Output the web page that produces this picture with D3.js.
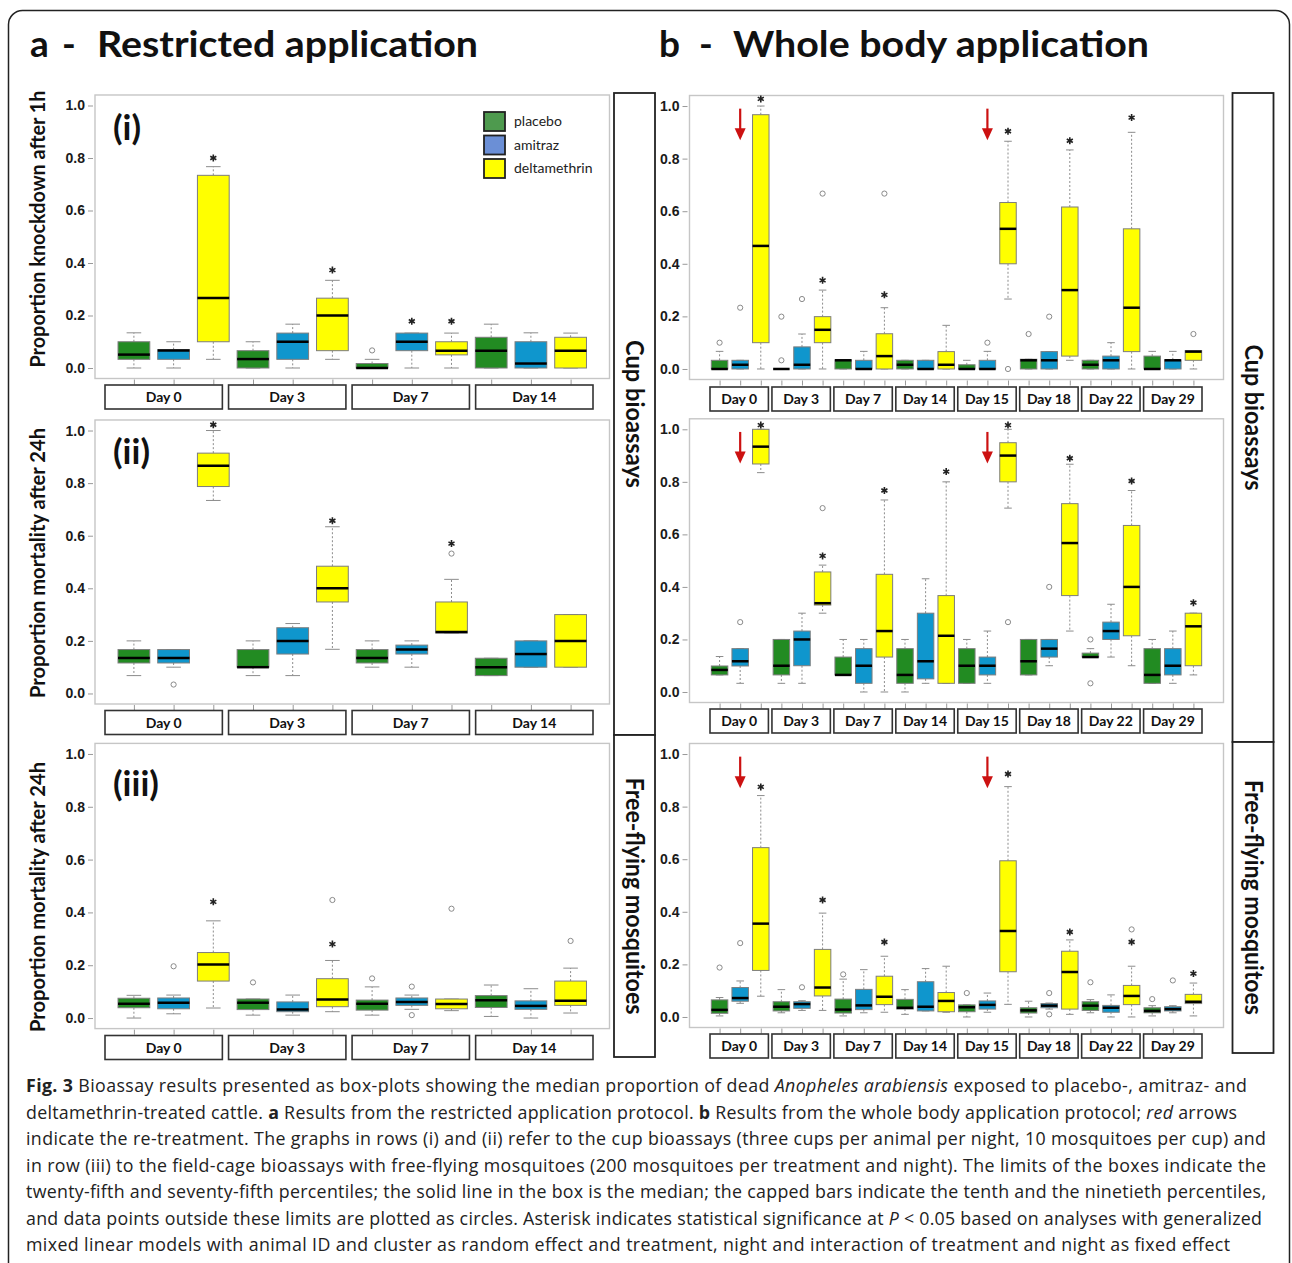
<!DOCTYPE html>
<html>
<head>
<meta charset="utf-8">
<script src="https://cdn.jsdelivr.net/npm/d3@7"></script>
<style>
    body { margin: 0; background: #fff; }
    svg { font-family: Lato, "Open Sans", sans-serif; }
</style>
</head>
<body>
<div id="fig"></div>
<script>
const treatments = ["placebo", "amitraz", "deltamethrin"];
const daysA = ["Day 0", "Day 3", "Day 7", "Day 14"];
const daysB = ["Day 0", "Day 3", "Day 7", "Day 14", "Day 15", "Day 18", "Day 22", "Day 29"];
const yTicks = [0, 0.2, 0.4, 0.6, 0.8, 1.0];
const retreatDays = ["Day 0", "Day 15"];

// each row: [p10, p25, median, p75, p90], days x (placebo, amitraz, deltamethrin)
// outliers and asterisks: [box position (1-based), value]
const aKnock = [
    [0, 0.033, 0.051, 0.10, 0.134], [0, 0.033, 0.067, 0.07, 0.10], [0.033, 0.10, 0.267, 0.734, 0.767],
    [0, 0, 0.034, 0.066, 0.10], [0, 0.033, 0.10, 0.133, 0.167], [0.033, 0.066, 0.20, 0.266, 0.334],
    [0, 0, 0, 0.017, 0.033], [0, 0.066, 0.10, 0.133, 0.133], [0, 0.05, 0.066, 0.10, 0.133],
    [0, 0, 0.066, 0.117, 0.167], [0, 0, 0.017, 0.10, 0.134], [0, 0, 0.066, 0.117, 0.133]
];
const aKnockOut = [[7, 0.067]];
const aKnockSig = [[3, 0.80], [6, 0.373], [8, 0.178], [9, 0.178]];

const aCup = [
    [0.068, 0.116, 0.135, 0.167, 0.20], [0.10, 0.116, 0.135, 0.167, 0.167], [0.734, 0.787, 0.866, 0.914, 1.0],
    [0.068, 0.10, 0.10, 0.167, 0.20], [0.068, 0.15, 0.20, 0.25, 0.266], [0.168, 0.348, 0.40, 0.484, 0.634],
    [0.10, 0.116, 0.135, 0.167, 0.20], [0.10, 0.15, 0.167, 0.184, 0.20], [0.23, 0.23, 0.234, 0.348, 0.434],
    [0.068, 0.068, 0.10, 0.134, 0.134], [0.10, 0.10, 0.15, 0.20, 0.20], [0.10, 0.10, 0.20, 0.30, 0.30]
];
const aCupOut = [[2, 0.034], [9, 0.532]];
const aCupSig = [[3, 1.022], [6, 0.657], [9, 0.57]];

const aFree = [
    [0, 0.039, 0.054, 0.075, 0.086], [0.016, 0.035, 0.058, 0.076, 0.087], [0.038, 0.14, 0.203, 0.248, 0.368],
    [0.011, 0.032, 0.058, 0.072, 0.072], [0.011, 0.024, 0.032, 0.061, 0.087], [0.024, 0.043, 0.07, 0.149, 0.218],
    [0.011, 0.03, 0.054, 0.068, 0.118], [0.033, 0.048, 0.061, 0.076, 0.087], [0.028, 0.035, 0.053, 0.072, 0.072],
    [0.006, 0.04, 0.067, 0.085, 0.125], [0, 0.033, 0.046, 0.065, 0.111], [0.019, 0.048, 0.065, 0.14, 0.189]
];
const aFreeOut = [[2, 0.196], [4, 0.135], [6, 0.447], [7, 0.15], [8, 0.119], [8, 0.011], [9, 0.414], [12, 0.292]];
const aFreeSig = [[3, 0.44], [6, 0.28]];

const bKnock = [
    [0, 0, 0, 0.033, 0.067], [0, 0, 0.016, 0.033, 0.033], [0, 0.10, 0.468, 0.967, 1.0],
    [0, 0, 0, 0, 0], [0, 0, 0.016, 0.084, 0.133], [0, 0.10, 0.149, 0.199, 0.30],
    [0, 0, 0.033, 0.035, 0.035], [0, 0, 0, 0.033, 0.067], [0, 0, 0.049, 0.134, 0.233],
    [0, 0, 0.016, 0.033, 0.033], [0, 0, 0, 0.033, 0.033], [0, 0, 0.016, 0.066, 0.166],
    [0, 0, 0, 0.016, 0.033], [0, 0, 0, 0.033, 0.067], [0.266, 0.40, 0.533, 0.633, 0.866],
    [0, 0, 0.033, 0.037, 0.037], [0, 0, 0.033, 0.066, 0.066], [0.033, 0.049, 0.30, 0.616, 0.833],
    [0, 0, 0.016, 0.033, 0.033], [0, 0, 0.033, 0.049, 0.10], [0, 0.066, 0.233, 0.533, 0.90],
    [0, 0, 0, 0.049, 0.067], [0, 0, 0.033, 0.035, 0.067], [0, 0.033, 0.066, 0.07, 0.07]
];
const bKnockOut = [[1, 0.10], [2, 0.233], [4, 0.199], [4, 0.033], [5, 0.266], [6, 0.667], [9, 0.667],
    [14, 0.10], [15, 0], [16, 0.133], [17, 0.199], [24, 0.133]];
const bKnockSig = [[3, 1.027], [6, 0.337], [9, 0.282], [15, 0.904], [18, 0.868], [21, 0.956]];

const bCup = [
    [0.065, 0.065, 0.084, 0.099, 0.135], [0.033, 0.099, 0.117, 0.165, 0.165], [0.835, 0.868, 0.934, 1.0, 1.0],
    [0.033, 0.065, 0.10, 0.20, 0.20], [0.033, 0.10, 0.20, 0.232, 0.30], [0.30, 0.331, 0.338, 0.457, 0.483],
    [0.065, 0.065, 0.065, 0.133, 0.20], [0, 0.033, 0.10, 0.165, 0.20], [0, 0.133, 0.232, 0.448, 0.731],
    [0, 0.033, 0.065, 0.165, 0.20], [0.033, 0.05, 0.117, 0.30, 0.431], [0.033, 0.033, 0.214, 0.367, 0.80],
    [0.033, 0.033, 0.10, 0.165, 0.20], [0.033, 0.065, 0.10, 0.133, 0.232], [0.70, 0.80, 0.90, 0.949, 1.0],
    [0.065, 0.065, 0.117, 0.20, 0.20], [0.10, 0.133, 0.165, 0.20, 0.20], [0.232, 0.367, 0.567, 0.717, 0.867],
    [0.133, 0.133, 0.133, 0.148, 0.165], [0.133, 0.20, 0.232, 0.266, 0.334], [0.10, 0.214, 0.40, 0.634, 0.767],
    [0.033, 0.033, 0.065, 0.165, 0.20], [0.033, 0.065, 0.10, 0.165, 0.232], [0.065, 0.10, 0.25, 0.30, 0.30]
];
const bCupOut = [[2, 0.266], [6, 0.70], [15, 0.266], [17, 0.40], [19, 0.20], [19, 0.033]];
const bCupSig = [[3, 1.016], [6, 0.518], [9, 0.767], [12, 0.839], [15, 1.016], [18, 0.89], [21, 0.803], [24, 0.34]];

const bFree = [
    [0.004, 0.014, 0.027, 0.065, 0.074], [0.052, 0.06, 0.072, 0.112, 0.137], [0.079, 0.177, 0.355, 0.644, 0.842],
    [0.016, 0.023, 0.039, 0.058, 0.104], [0.025, 0.033, 0.049, 0.058, 0.062], [0.025, 0.08, 0.112, 0.257, 0.395],
    [0.004, 0.015, 0.028, 0.068, 0.144], [0.016, 0.028, 0.044, 0.105, 0.18], [0.018, 0.047, 0.077, 0.155, 0.231],
    [0.01, 0.03, 0.035, 0.067, 0.104], [0.023, 0.023, 0.039, 0.134, 0.184], [0.018, 0.02, 0.061, 0.093, 0.193],
    [0, 0.02, 0.037, 0.046, 0.046], [0.018, 0.03, 0.046, 0.061, 0.091], [0.048, 0.172, 0.327, 0.594, 0.876],
    [0, 0.015, 0.025, 0.035, 0.06], [0.03, 0.035, 0.043, 0.051, 0.053], [0.01, 0.03, 0.171, 0.25, 0.293],
    [0.016, 0.025, 0.043, 0.058, 0.066], [0, 0.018, 0.035, 0.044, 0.084], [0, 0.047, 0.08, 0.12, 0.193],
    [0.004, 0.016, 0.023, 0.035, 0.043], [0.016, 0.023, 0.03, 0.039, 0.043], [0.004, 0.051, 0.058, 0.086, 0.129]
];
const bFreeOut = [[1, 0.188], [2, 0.281], [5, 0.113], [7, 0.162], [13, 0.091], [17, 0.091], [17, 0.01],
    [19, 0.132], [21, 0.333], [22, 0.068], [23, 0.139]];
const bFreeSig = [[3, 0.875], [6, 0.445], [9, 0.285], [15, 0.924], [18, 0.323], [21, 0.285], [24, 0.165]];

const boxFill = {placebo: "#228b22", amitraz: "#0f96cd", deltamethrin: "#ffff00"};
const legendFill = {placebo: "#4e9a4e", amitraz: "#6b8fd6", deltamethrin: "#ffff00"};

const svg = d3.select("#fig").append("svg")
    .attr("width", 1292)
    .attr("height", 1263);

svg.append("rect")
    .attr("x", 8.5).attr("y", 10.5)
    .attr("width", 1281).attr("height", 1300)
    .attr("rx", 14)
    .attr("fill", "none")
    .attr("stroke", "#222")
    .attr("stroke-width", 1.5);

// headings
function heading(x, y, txt, len) {
    const t = svg.append("text")
        .attr("x", x).attr("y", y)
        .attr("font-size", 37)
        .attr("font-weight", "bold")
        .attr("fill", "#111")
        .text(txt);
    if (len) t.attr("textLength", len).attr("lengthAdjust", "spacingAndGlyphs");
}
heading(30, 57, "a");
heading(62, 57, "-");
heading(97, 57, "Restricted application", 381);
heading(659, 57, "b");
heading(699, 57, "-");
heading(733, 57, "Whole body application", 416);

function drawPanel(p) {
    const g = svg.append("g");
    const n = p.days.length * treatments.length;
    const pad = 0.5 + 0.04 * n;

    const x = d3.scaleLinear().domain([1 - pad, n + pad]).range([p.x0, p.x1]);
    const y = d3.scaleLinear().domain([-0.04, 1.04]).range([p.yBot, p.yTop]);
    const bw = 0.8 * (x(2) - x(1));
    const cap = bw * 0.23;

    const rows = p.stats.map((s, i) => ({
        pos: i + 1, treat: treatments[i % 3],
        lo: s[0], q1: s[1], med: s[2], q3: s[3], hi: s[4]
    }));

    g.append("rect")
        .attr("x", p.x0).attr("y", p.yTop)
        .attr("width", p.x1 - p.x0).attr("height", p.yBot - p.yTop)
        .attr("fill", "none")
        .attr("stroke", "#c6c6c6")
        .attr("stroke-width", 1.4);

    const ya = g.append("g")
        .attr("transform", "translate(" + (p.x0 - 2) + ",0)")
        .attr("font-family", "Lato, sans-serif")
        .call(d3.axisLeft(y).tickValues(yTicks).tickFormat(d3.format(".1f")).tickSize(5).tickPadding(3));
    ya.select(".domain").remove();
    ya.selectAll("line").attr("stroke", "#999");
    ya.selectAll("text")
        .attr("font-size", 14)
        .attr("font-weight", "bold")
        .attr("fill", "#1a1a1a");

    const xa = g.append("g")
        .attr("transform", "translate(0," + (p.yBot + 1) + ")")
        .call(d3.axisBottom(x).tickValues(d3.range(1, n + 1)).tickSize(5).tickFormat(""));
    xa.select(".domain").remove();
    xa.selectAll("line").attr("stroke", "#999");

    // whiskers
    const wh = g.append("g")
        .attr("stroke", "#8c8c8c")
        .attr("stroke-width", 1);
    wh.selectAll(".wup").data(rows).join("line")
        .attr("class", "wup")
        .attr("x1", d => x(d.pos)).attr("x2", d => x(d.pos))
        .attr("y1", d => y(d.q3)).attr("y2", d => y(d.hi))
        .attr("stroke-dasharray", "2,2");
    wh.selectAll(".wdn").data(rows).join("line")
        .attr("class", "wdn")
        .attr("x1", d => x(d.pos)).attr("x2", d => x(d.pos))
        .attr("y1", d => y(d.q1)).attr("y2", d => y(d.lo))
        .attr("stroke-dasharray", "2,2");
    wh.selectAll(".chi").data(rows).join("line")
        .attr("class", "chi")
        .attr("x1", d => x(d.pos) - cap).attr("x2", d => x(d.pos) + cap)
        .attr("y1", d => y(d.hi)).attr("y2", d => y(d.hi));
    wh.selectAll(".clo").data(rows).join("line")
        .attr("class", "clo")
        .attr("x1", d => x(d.pos) - cap).attr("x2", d => x(d.pos) + cap)
        .attr("y1", d => y(d.lo)).attr("y2", d => y(d.lo));

    g.selectAll(".box").data(rows).join("rect")
        .attr("class", "box")
        .attr("x", d => x(d.pos) - bw / 2)
        .attr("y", d => y(d.q3))
        .attr("width", bw)
        .attr("height", d => Math.max(0, y(d.q1) - y(d.q3)))
        .attr("fill", d => boxFill[d.treat])
        .attr("stroke", "#7d7d7d")
        .attr("stroke-width", 1);

    g.selectAll(".med").data(rows).join("line")
        .attr("class", "med")
        .attr("x1", d => x(d.pos) - bw / 2).attr("x2", d => x(d.pos) + bw / 2)
        .attr("y1", d => y(d.med)).attr("y2", d => y(d.med))
        .attr("stroke", "#000")
        .attr("stroke-width", 2.5);

    g.selectAll(".out").data(p.outs).join("circle")
        .attr("class", "out")
        .attr("cx", d => x(d[0]))
        .attr("cy", d => y(d[1]))
        .attr("r", 2.6)
        .attr("fill", "none")
        .attr("stroke", "#8a8a8a")
        .attr("stroke-width", 1);

    const star = d3.symbol(d3.symbolAsterisk, 34);
    g.selectAll(".sig").data(p.sigs).join("path")
        .attr("class", "sig")
        .attr("transform", d => "translate(" + x(d[0]) + "," + y(d[1]) + ")")
        .attr("d", star)
        .attr("stroke", "#222")
        .attr("stroke-width", 1.6);

    // day strips
    const band = d3.scaleBand().domain(p.days).range(p.strip).paddingInner(p.days.length > 4 ? 0.057 : 0.05);
    const strips = g.selectAll(".strip").data(p.days).join("g").attr("class", "strip");
    strips.append("rect")
        .attr("x", d => band(d)).attr("y", p.stripY)
        .attr("width", band.bandwidth()).attr("height", 24)
        .attr("fill", "#fff")
        .attr("stroke", "#333")
        .attr("stroke-width", 1.6);
    strips.append("text")
        .attr("x", d => band(d) + band.bandwidth() / 2)
        .attr("y", p.stripY + 17)
        .attr("text-anchor", "middle")
        .attr("font-size", 14)
        .attr("font-weight", "bold")
        .attr("fill", "#111")
        .text(d => d);

    if (p.arrows) {
        const ar = g.selectAll(".arrow").data(retreatDays).join("g").attr("class", "arrow")
            .attr("fill", "#cc1111").attr("stroke", "#cc1111");
        const ax = d => x(p.days.indexOf(d) * 3 + 2);
        ar.append("line")
            .attr("x1", ax).attr("x2", ax)
            .attr("y1", y(0.99)).attr("y2", y(0.87) - 10)
            .attr("stroke-width", 2.2);
        ar.append("path")
            .attr("stroke", "none")
            .attr("d", d => "M" + (ax(d) - 5.5) + "," + (y(0.87) - 12) + "h11L" + ax(d) + "," + y(0.87) + "Z");
    }

    if (p.legend) {
        const lg = g.selectAll(".leg").data(treatments).join("g").attr("class", "leg")
            .attr("transform", (d, i) => "translate(484," + (112 + i * 23.5) + ")");
        lg.append("rect")
            .attr("width", 21).attr("height", 19)
            .attr("fill", d => legendFill[d])
            .attr("stroke", "#222")
            .attr("stroke-width", 1.8);
        lg.append("text")
            .attr("x", 30).attr("y", 14)
            .attr("font-size", 14)
            .attr("fill", "#222")
            .text(d => d);
    }

    if (p.tag) {
        g.append("text")
            .attr("x", 113).attr("y", p.tagY)
            .attr("font-size", 35)
            .attr("font-weight", "bold")
            .attr("fill", "#111")
            .text(p.tag);
    }

    if (p.yLabel) {
        g.append("text")
            .attr("transform", "translate(45," + p.yLabelY + ") rotate(-90)")
            .attr("text-anchor", "middle")
            .attr("font-size", 20)
            .attr("font-weight", "bold")
            .attr("fill", "#111")
            .attr("textLength", p.yLabelLen)
            .attr("lengthAdjust", "spacingAndGlyphs")
            .text(p.yLabel);
    }
}

drawPanel({days: daysA, stats: aKnock, outs: aKnockOut, sigs: aKnockSig,
    x0: 95, x1: 609.5, yTop: 95, yBot: 378.5, strip: [105, 593], stripY: 385,
    legend: true, tag: "(i)", tagY: 140,
    yLabel: "Proportion knockdown after 1h", yLabelY: 229, yLabelLen: 277});
drawPanel({days: daysA, stats: aCup, outs: aCupOut, sigs: aCupSig,
    x0: 95, x1: 609.5, yTop: 420, yBot: 704, strip: [105, 593], stripY: 710.5,
    tag: "(ii)", tagY: 464,
    yLabel: "Proportion mortality after 24h", yLabelY: 563, yLabelLen: 270});
drawPanel({days: daysA, stats: aFree, outs: aFreeOut, sigs: aFreeSig,
    x0: 95, x1: 609.5, yTop: 743.4, yBot: 1028.6, strip: [105, 593], stripY: 1035.5,
    tag: "(iii)", tagY: 796,
    yLabel: "Proportion mortality after 24h", yLabelY: 897, yLabelLen: 270});

drawPanel({days: daysB, stats: bKnock, outs: bKnockOut, sigs: bKnockSig,
    x0: 689.5, x1: 1223.5, yTop: 95.5, yBot: 379.5, strip: [710, 1202], stripY: 387, arrows: true});
drawPanel({days: daysB, stats: bCup, outs: bCupOut, sigs: bCupSig,
    x0: 689.5, x1: 1223.5, yTop: 418.8, yBot: 702.5, strip: [710, 1202], stripY: 709, arrows: true});
drawPanel({days: daysB, stats: bFree, outs: bFreeOut, sigs: bFreeSig,
    x0: 689.5, x1: 1223.5, yTop: 743.5, yBot: 1027.5, strip: [710, 1202], stripY: 1034, arrows: true});

// side strips
function sideBox(x, y0, y1, label, len) {
    svg.append("rect")
        .attr("x", x).attr("y", y0)
        .attr("width", 41).attr("height", y1 - y0)
        .attr("fill", "#fff")
        .attr("stroke", "#222")
        .attr("stroke-width", 1.8);
    svg.append("text")
        .attr("transform", "translate(" + (x + 12) + "," + ((y0 + y1) / 2) + ") rotate(90)")
        .attr("text-anchor", "middle")
        .attr("font-size", 24)
        .attr("font-weight", "bold")
        .attr("fill", "#111")
        .attr("textLength", len)
        .attr("lengthAdjust", "spacingAndGlyphs")
        .text(label);
}
sideBox(614, 93, 735, "Cup bioassays", 148);
sideBox(614, 735, 1057, "Free-flying mosquitoes", 237);
sideBox(1232.5, 93, 742, "Cup bioassays", 146);
sideBox(1232.5, 742, 1053, "Free-flying mosquitoes", 235);

// caption
const caption = [
    [["Fig. 3", "b"], [" Bioassay results presented as box-plots showing the median proportion of dead ", ""], ["Anopheles arabiensis", "i"], [" exposed to placebo-, amitraz- and", ""]],
    [["deltamethrin-treated cattle. ", ""], ["a", "b"], [" Results from the restricted application protocol. ", ""], ["b", "b"], [" Results from the whole body application protocol; ", ""], ["red", "i"], [" arrows", ""]],
    [["indicate the re-treatment. The graphs in rows (i) and (ii) refer to the cup bioassays (three cups per animal per night, 10 mosquitoes per cup) and", ""]],
    [["in row (iii) to the field-cage bioassays with free-flying mosquitoes (200 mosquitoes per treatment and night). The limits of the boxes indicate the", ""]],
    [["twenty-fifth and seventy-fifth percentiles; the solid line in the box is the median; the capped bars indicate the tenth and the ninetieth percentiles,", ""]],
    [["and data points outside these limits are plotted as circles. Asterisk indicates statistical significance at ", ""], ["P", "i"], [" < 0.05 based on analyses with generalized", ""]],
    [["mixed linear models with animal ID and cluster as random effect and treatment, night and interaction of treatment and night as fixed effect", ""]]
];
const captionEnds = [1247, 1237, 1266, 1266, 1266, 1262, 1230];

caption.forEach((line, i) => {
    const t = svg.append("text")
        .attr("x", 26)
        .attr("y", 1092 + i * 26.5)
        .attr("font-family", "'Open Sans', sans-serif")
        .attr("font-size", 17.8)
        .attr("fill", "#222")
        .style("white-space", "pre")
        .attr("textLength", captionEnds[i] - 26)
        .attr("lengthAdjust", "spacing");
    t.selectAll("tspan").data(line).join("tspan")
        .attr("font-weight", d => d[1] === "b" ? "bold" : null)
        .attr("font-style", d => d[1] === "i" ? "italic" : null)
        .text(d => d[0]);
});
</script>
</body>
</html>
